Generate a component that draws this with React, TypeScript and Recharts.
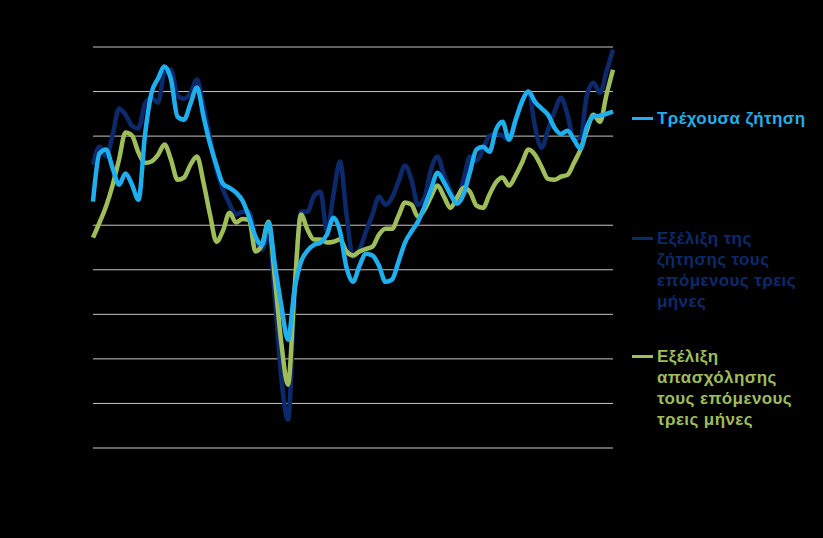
import React from "react";
import { LineChart, Line, XAxis, YAxis, CartesianGrid } from "recharts";

// balance values, monthly
const currentDemand = [
  -4.7, 6.1, 7.0, 2.9, -0.9, 1.6, -0.9, -4.3, 10.3, 19.7,
  22.9, 25.6, 22.7, 14.4, 13.7, 17.3, 20.9, 14.4, 8.3, 3.4,
  -0.7, -1.6, -2.7, -4.5, -8.1, -12.6, -14.4, -9.4, -19.1, -28.3,
  -35.7, -24.5, -18.2, -15.7, -14.4, -13.9, -12.1, -8.3, -11.4, -19.5,
  -22.7, -19.1, -16.4, -16.8, -19.1, -22.7, -22.2, -18.2, -13.9, -11.4,
  -9.2, -5.8, -2.0, 1.8, -0.4, -3.1, -5.2, -3.1, 2.0, 7.0,
  7.6, 6.5, 11.4, 13.2, 9.2, 13.5, 17.7, 20.0, 17.7, 16.2,
  14.8, 11.9, 10.5, 11.2, 9.2, 7.2, 12.1, 14.4, 14.6, 15.0,
  15.5,
];

const demandOutlook = [
  3.6, 7.6, 5.4, 10.1, 16.2, 14.8, 12.3, 11.7, 17.3, 18.6,
  17.5, 24.2, 24.9, 19.1, 18.4, 19.7, 22.7, 16.6, 9.6, 2.5,
  -2.0, -5.2, -7.6, -7.0, -7.0, -12.8, -15.5, -11.4, -26.7, -44.7,
  -53.6, -26.7, -7.0, -7.0, -3.4, -2.5, -11.4, -3.1, 4.3, -7.6,
  -17.1, -15.5, -11.4, -7.6, -3.6, -5.4, -3.8, -0.2, 3.4, 0.2,
  -5.4, -3.8, 2.5, 5.4, 1.3, -2.2, -4.7, 0.2, 5.4, 4.5,
  7.0, 10.1, 10.5, 10.1, 9.2, 13.7, 18.0, 20.0, 12.1, 7.4,
  11.4, 15.5, 18.6, 14.8, 9.2, 9.6, 19.3, 22.0, 19.7, 24.5,
  29.4,
];

const employmentOutlook = [
  -12.8, -9.4, -5.8, -1.1, 4.7, 10.8, 10.1, 6.3, 4.0, 4.3,
  5.8, 8.1, 4.7, 0.2, 0.7, 3.6, 5.4, -0.4, -7.6, -13.7,
  -11.2, -7.2, -9.4, -8.6, -8.8, -15.9, -14.4, -9.2, -22.2, -36.8,
  -45.8, -24.5, -7.6, -11.0, -13.2, -13.2, -13.9, -13.7, -13.2, -15.9,
  -16.8, -15.9, -15.3, -14.8, -12.1, -10.8, -10.8, -7.9, -4.9, -5.4,
  -8.1, -6.5, -3.6, -1.1, -3.6, -6.1, -3.8, -1.6, -2.5, -5.6,
  -6.1, -3.1, -0.4, 0.7, -1.1, 1.1, 4.0, 7.0, 5.8, 3.1,
  0.4, 0.2, 0.9, 1.3, 4.0, 7.0, 11.4, 14.8, 13.2, 19.3,
  24.9,
];

const periods = currentDemand.map((_, i) => `m${i + 1}`);
const gridValues = [30, 20, 10, -10, -20, -30, -40, -50, -60];

const data = periods.map((p, i) => ({
  period: p,
  current: currentDemand[i],
  demand: demandOutlook[i],
  employment: employmentOutlook[i],
}));

const legendItems = [
  { color: "#1eb0ee", top: 108, lines: ["Τρέχουσα ζήτηση"] },
  { color: "#0c2a6b", top: 228, lines: ["Εξέλιξη της", "ζήτησης τους", "επόμενους τρεις", "μήνες"] },
  { color: "#9fbd58", top: 346, lines: ["Εξέλιξη", "απασχόλησης", "τους επόμενους", "τρεις μήνες"] },
];

export default function App() {
  return (
    <div style={{ position: "absolute", left: 0, top: 0, width: 823, height: 538, background: "#000" }}>
      <LineChart
        width={823}
        height={538}
        data={data}
        margin={{ top: 47, right: 210, bottom: 90, left: 93 }}
      >
        <CartesianGrid vertical={false} stroke="#c4c4c4" horizontalValues={gridValues} />
        <XAxis dataKey="period" hide />
        <YAxis hide domain={[-60, 30]} ticks={gridValues} />
        <Line type="monotone" dataKey="demand" stroke="#0c2a6b" strokeWidth={4.5} dot={false} isAnimationActive={false} />
        <Line type="monotone" dataKey="employment" stroke="#9fbd58" strokeWidth={4.5} dot={false} isAnimationActive={false} />
        <Line type="monotone" dataKey="current" stroke="#1eb0ee" strokeWidth={4.5} dot={false} isAnimationActive={false} />
      </LineChart>
      {legendItems.map((item) => (
        <div key={item.lines[0]} style={{ position: "absolute", left: 632, top: item.top }}>
          <div style={{ position: "absolute", left: 0, top: 9, width: 21, height: 3, background: item.color }} />
          <div
            style={{
              marginLeft: 25,
              color: item.color,
              fontFamily: "'Liberation Sans', Arial, sans-serif",
              fontWeight: "bold",
              fontSize: 17,
              letterSpacing: 0.4,
              lineHeight: "21px",
              whiteSpace: "nowrap",
            }}
          >
            {item.lines.map((l) => (
              <div key={l}>{l}</div>
            ))}
          </div>
        </div>
      ))}
    </div>
  );
}
